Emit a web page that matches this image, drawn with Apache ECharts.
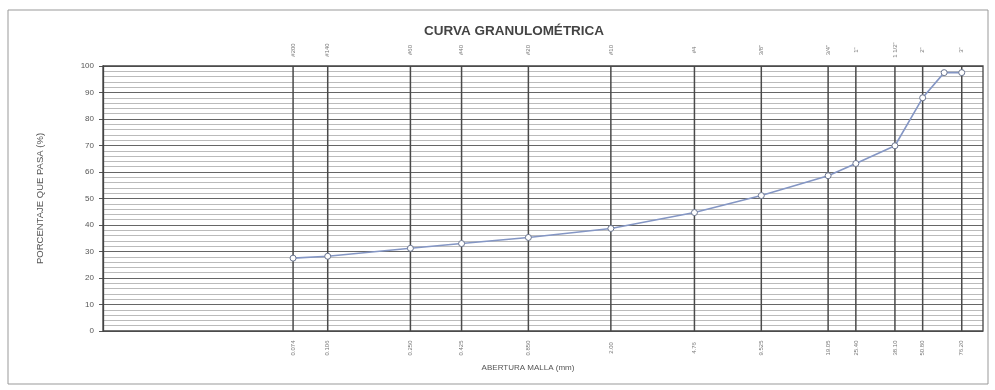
<!DOCTYPE html>
<html>
<head>
<meta charset="utf-8">
<script src="https://cdn.jsdelivr.net/npm/echarts@6/dist/echarts.min.js"></script>
<style>html,body{margin:0;padding:0;background:#fff;}#c{width:995px;height:390px;}</style>
</head>
<body>
<div id="c"></div>
<script>
// Sieve names and openings (mm)
var sieveNames = ['#200', '#140', '#60', '#40', '#20', '#10', '#4', '3/8"', '3/4"', '1"', '1 1/2"', '2"', '3"'];
var sieveOpenings = [0.074, 0.106, 0.250, 0.425, 0.850, 2.00, 4.76, 9.525, 19.05, 25.40, 38.10, 50.80, 76.20];
var openingLabels = ['0.074', '0.106', '0.250', '0.425', '0.850', '2.00', '4.76', '9.525', '19.05', '25.40', '38.10', '50.80', '76.20'];
// Curve points
var curveX = [0.074, 0.106, 0.250, 0.425, 0.850, 2.00, 4.76, 9.525, 19.05, 25.40, 38.10, 50.80, 63.50, 76.20];
var curveY = [27.5, 28.2, 31.2, 33.0, 35.3, 38.7, 44.7, 51.1, 58.6, 63.2, 69.9, 88.0, 97.5, 97.5];
var yTicks = [0, 10, 20, 30, 40, 50, 60, 70, 80, 90, 100];

var chart = echarts.init(document.getElementById('c'));
var sieveData = sieveOpenings.map(function (v, i) { return [v, sieveNames[i], openingLabels[i]]; });
var curveData = curveX.map(function (v, i) { return [v, curveY[i]]; });

chart.setOption({
  animation: false,
  backgroundColor: '#fff',
  title: {
    text: 'CURVA GRANULOMÉTRICA',
    left: 509, top: 19, textAlign: 'center',
    textStyle: { fontFamily: 'Liberation Sans', fontSize: 13.5, fontWeight: 'bold', color: '#444' }
  },
  grid: { left: 103, top: 66, width: 880, height: 265 },
  xAxis: {
    type: 'log', logBase: 10, min: 0.0103, max: 95,
    axisLine: { show: false }, axisTick: { show: false }, axisLabel: { show: false },
    splitLine: { show: false }, minorSplitLine: { show: false }
  },
  yAxis: {
    type: 'value', min: 0, max: 100, interval: 10,
    name: 'PORCENTAJE QUE PASA (%)', nameLocation: 'middle', nameGap: 58, nameRotate: 90,
    nameTextStyle: { fontFamily: 'Liberation Sans', fontSize: 9.5, color: '#555' },
    axisLine: { show: true, lineStyle: { color: '#444', width: 1.3 } },
    axisTick: { show: true, length: 4, lineStyle: { color: '#555' } },
    axisLabel: { fontFamily: 'Liberation Sans', fontSize: 8, color: '#555', margin: 9,
      formatter: function (v) { return yTicks.indexOf(v) >= 0 ? String(v) : ''; } },
    splitLine: { show: true, lineStyle: { color: '#666', width: 1 } },
    minorTick: { show: false, splitNumber: 5 },
    minorSplitLine: { show: true, lineStyle: { color: '#aaa', width: 0.8 } }
  },
  series: [
    {
      type: 'custom',
      data: sieveData,
      clip: false,
      z: 3,
      renderItem: function (params, api) {
        var v = api.value(0);
        var top = api.coord([v, 100]);
        var bot = api.coord([v, 0]);
        var d = sieveData[params.dataIndex];
        return {
          type: 'group',
          children: [
            { type: 'line', shape: { x1: top[0], y1: top[1], x2: bot[0], y2: bot[1] }, style: { stroke: '#4a4a4a', lineWidth: 1.5 } },
            { type: 'text', x: top[0], y: top[1] - 16, rotation: Math.PI / 2,
              style: { text: d[1], fontFamily: 'Liberation Sans', fontSize: 6, fill: '#777', align: 'center', verticalAlign: 'middle' } },
            { type: 'text', x: bot[0], y: bot[1] + 17, rotation: Math.PI / 2,
              style: { text: d[2], fontFamily: 'Liberation Sans', fontSize: 6, fill: '#777', align: 'center', verticalAlign: 'middle' } }
          ]
        };
      }
    },
    {
      type: 'line',
      data: curveData,
      z: 5,
      symbol: 'circle', symbolSize: 6,
      lineStyle: { color: '#8496c4', width: 1.6 },
      itemStyle: { color: '#fff', borderColor: '#6a7590', borderWidth: 1 }
    }
  ]
});
// Frame, plot border and x-axis name
var tl = chart.convertToPixel({ gridIndex: 0 }, [0.0103, 100]);
var br = chart.convertToPixel({ gridIndex: 0 }, [95, 0]);
chart.setOption({ graphic: [
  { type: 'rect', shape: { x: 8, y: 10, width: 980, height: 374 }, style: { fill: null, stroke: '#999', lineWidth: 1 }, z: 0 },
  { type: 'text', x: 528, y: 368, style: { text: 'ABERTURA MALLA (mm)', fontFamily: 'Liberation Sans', fontSize: 8, fill: '#555', align: 'center', verticalAlign: 'middle' } },
  { type: 'rect', shape: { x: tl[0], y: tl[1], width: br[0] - tl[0], height: br[1] - tl[1] }, style: { fill: null, stroke: '#444', lineWidth: 1.3 }, z: 10 }
] });
</script>
</body>
</html>
